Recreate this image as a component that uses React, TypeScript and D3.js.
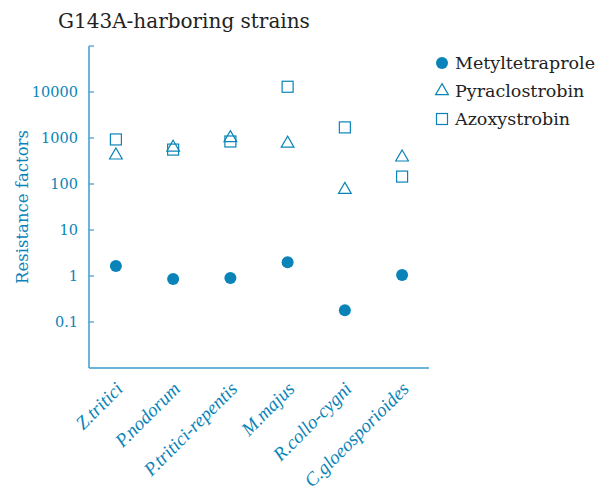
import React from "react";
import * as d3 from "d3";

const strains = ["Z.tritici", "P.nodorum", "P.tritici-repentis", "M.majus", "R.collo-cygni", "C.gloeosporioides"];
const metyltetraprole = [1.65, 0.86, 0.9, 2.0, 0.18, 1.05];
const pyraclostrobin = [420, 620, 1000, 760, 75, 380];
const azoxystrobin = [930, 560, 840, 13000, 1700, 145];
const yTicks = [0.1, 1, 10, 100, 1000, 10000];
const yTickLabels = ["0.1", "1", "10", "100", "1000", "10000"];

const BLUE = "#0a84b8";
const AXIS = "#3c9ccb";
const SERIF = "'DejaVu Serif', serif";
const ITALIC = "'Liberation Serif', serif";

export default function App() {
  const width = 598;
  const height = 488;
  const left = 89;
  const right = 429;
  const top = 46;
  const bottom = 368;

  const x = d3.scalePoint<string>().domain(strains).range([left, right]).padding(0.47);
  const y = d3.scaleLog().domain([0.01, 100000]).range([bottom, top]);

  const tri = d3.symbol().type(d3.symbolTriangle).size(70)();
  const legend = [
    { label: "Metyltetraprole", kind: "circle" },
    { label: "Pyraclostrobin", kind: "triangle" },
    { label: "Azoxystrobin", kind: "square" },
  ];

  const marker = (kind: string, cx: number, cy: number, key: string) => {
    if (kind === "circle") return <circle key={key} cx={cx} cy={cy} r={6} fill={BLUE} />;
    if (kind === "triangle")
      return <path key={key} d={tri || ""} transform={`translate(${cx},${cy})`} fill="none" stroke={BLUE} strokeWidth={1.2} />;
    return <rect key={key} x={cx - 5.5} y={cy - 5.5} width={11} height={11} fill="none" stroke={BLUE} strokeWidth={1.2} />;
  };

  return (
    <svg width={width} height={height} style={{ position: "absolute", left: 0, top: 0 }}>
      <rect width={width} height={height} fill="#fff" />
      <text x={58} y={28} fontFamily={SERIF} fontSize={20} fill="#222">G143A-harboring strains</text>

      {/* axes */}
      <line x1={left} x2={left} y1={top} y2={bottom} stroke={AXIS} strokeWidth={1.5} />
      <line x1={left} x2={right} y1={bottom} y2={bottom} stroke={AXIS} strokeWidth={1.5} />
      <line x1={left} x2={left + 5} y1={top} y2={top} stroke={AXIS} strokeWidth={1.2} />
      {yTicks.map((t, i) => (
        <g key={t}>
          <line x1={left} x2={left + 5} y1={y(t)} y2={y(t)} stroke={AXIS} strokeWidth={1.2} />
          <text x={78} y={y(t)} dy="0.35em" textAnchor="end" fontFamily={SERIF} fontSize={14.5} fill={BLUE}>
            {yTickLabels[i]}
          </text>
        </g>
      ))}
      <text
        transform={`translate(28,207) rotate(-90)`}
        textAnchor="middle"
        fontFamily={SERIF}
        fontSize={16.5}
        fill={BLUE}
      >
        Resistance factors
      </text>

      {/* x labels */}
      {strains.map((s) => (
        <text
          key={s}
          transform={`translate(${(x(s) || 0) + 8},${bottom + 22}) rotate(-45)`}
          textAnchor="end"
          fontFamily={ITALIC}
          fontStyle="italic"
          fontSize={19}
          fill={BLUE}
        >
          {s}
        </text>
      ))}

      {/* points */}
      {strains.map((s, i) => marker("square", x(s) || 0, y(azoxystrobin[i]), `a${i}`))}
      {strains.map((s, i) => marker("triangle", x(s) || 0, y(pyraclostrobin[i]), `p${i}`))}
      {strains.map((s, i) => marker("circle", x(s) || 0, y(metyltetraprole[i]), `m${i}`))}

      {/* legend */}
      {legend.map((l, i) => (
        <g key={l.label}>
          {marker(l.kind, 442, 63 + i * 28, `l${i}`)}
          <text x={455} y={63 + i * 28} dy="0.35em" fontFamily={SERIF} fontSize={17.5} fill="#222">
            {l.label}
          </text>
        </g>
      ))}
    </svg>
  );
}
